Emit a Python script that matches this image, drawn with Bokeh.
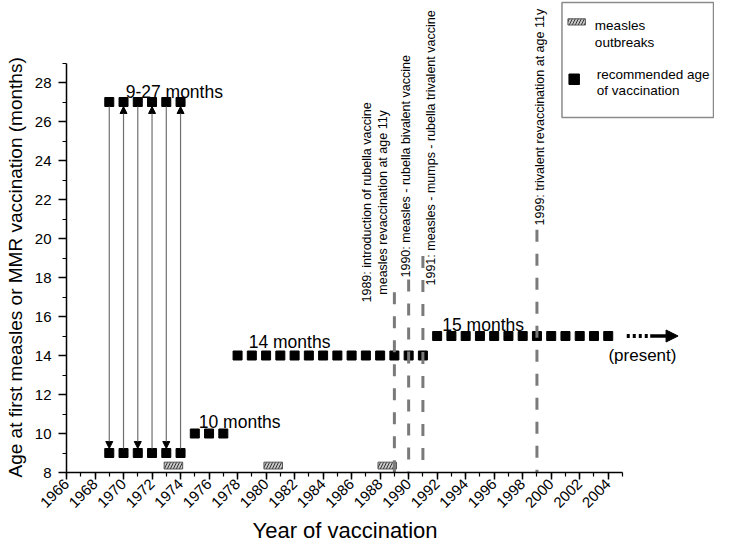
import math
from bokeh.plotting import figure
from bokeh.models import (Range1d, LinearAxis, FixedTicker, Arrow, NormalHead,
                          ColumnDataSource, BoxAnnotation, Label, Title)
from bokeh.core.properties import value
from bokeh.embed import file_html
from bokeh.resources import INLINE

FONT = "Liberation Sans"

# ---------------- data ----------------
early_years = [1969, 1970, 1971, 1972, 1973, 1974]
early_high = [27, 27, 27, 27, 27, 27]
early_low = [9, 9, 9, 9, 9, 9]
arrow_dir = ["down", "up", "down", "up", "down", "up"]

ten_years = [1975, 1976, 1977]
ten_age = [10, 10, 10]

fourteen_years = [1978, 1979, 1980, 1981, 1982, 1983, 1984, 1985, 1986, 1987,
                  1988, 1989, 1990, 1991]
fourteen_age = [14, 14, 14, 14, 14, 14, 14, 14, 14, 14, 14, 14, 14, 14]

fifteen_years = [1992, 1993, 1994, 1995, 1996, 1997, 1998, 1999, 2000, 2001,
                 2002, 2003, 2004]
fifteen_age = [15, 15, 15, 15, 15, 15, 15, 15, 15, 15, 15, 15, 15]

outbreak_start = [1973, 1980, 1988]
outbreak_end = [1974, 1981, 1989]

event_years = [1989, 1990, 1991, 1999]
event_tops = [17.25, 17.9, 19.1, 20.45]

note_texts_center = ["1989: introduction of rubella vaccine",
                     "measles revaccination at age 11y"]
note_texts_left = ["1990: measles - rubella bivalent vaccine",
                   "1991: measles - mumps - rubella trivalent vaccine",
                   "1999: trivalent revaccination at age 11y"]

group_labels = ["9-27 months", "10 months", "14 months", "15 months"]

x_ticks = [1966, 1968, 1970, 1972, 1974, 1976, 1978, 1980, 1982, 1984, 1986,
           1988, 1990, 1992, 1994, 1996, 1998, 2000, 2002, 2004]
x_minor = [1966, 1967, 1968, 1969, 1970, 1971, 1972, 1973, 1974, 1975, 1976,
           1977, 1978, 1979, 1980, 1981, 1982, 1983, 1984, 1985, 1986, 1987,
           1988, 1989, 1990, 1991, 1992, 1993, 1994, 1995, 1996, 1997, 1998,
           1999, 2000, 2001, 2002, 2003, 2004, 2005]
y_ticks = [8, 10, 12, 14, 16, 18, 20, 22, 24, 26, 28]
y_minor = [8, 9, 10, 11, 12, 13, 14, 15, 16, 17, 18, 19, 20, 21, 22, 23, 24,
           25, 26, 27, 28, 29]

# ---------------- layout ----------------
W, H = 714, 542
FRAME_LEFT, FRAME_BOTTOM = 64, 472          # canvas px
PX_YEAR, PX_MONTH = 14.3, 19.5
X0, Y0 = 1966, 8
X1 = X0 + (W - FRAME_LEFT) / PX_YEAR
Y1 = Y0 + FRAME_BOTTOM / PX_MONTH


def xd(px):
    return X0 + (px - FRAME_LEFT) / PX_YEAR


def yd(py):
    return Y0 + (FRAME_BOTTOM - py) / PX_MONTH


p = figure(width=W, height=H, x_range=Range1d(X0, X1), y_range=Range1d(Y0, Y1),
           output_backend="svg", toolbar_location=None,
           x_axis_type=None, y_axis_type=None,
           min_border_left=FRAME_LEFT, min_border_bottom=H - FRAME_BOTTOM,
           min_border_top=0, min_border_right=0)
p.outline_line_color = None
p.background_fill_color = "white"
p.border_fill_color = "white"

xaxis = LinearAxis(bounds=(1966, 2005),
                   ticker=FixedTicker(ticks=x_ticks, minor_ticks=x_minor))
yaxis = LinearAxis(bounds=(8, 29),
                   ticker=FixedTicker(ticks=y_ticks, minor_ticks=y_minor))
for ax in (xaxis, yaxis):
    ax.axis_line_width = 1.5
    ax.axis_line_color = "black"
    ax.major_tick_line_color = "black"
    ax.minor_tick_line_color = "black"
    ax.major_tick_line_width = 1.5
    ax.minor_tick_line_width = 1.2
    ax.major_tick_in = 0
    ax.minor_tick_in = 0
    ax.minor_tick_out = 4
    ax.major_label_text_font = FONT
    ax.major_label_text_font_size = "15px"
    ax.major_label_text_color = "black"
xaxis.major_tick_out = 7
xaxis.major_label_standoff = 2
xaxis.major_label_orientation = math.pi / 4
yaxis.major_tick_out = 8
yaxis.major_label_standoff = 7
p.add_layout(xaxis, "below")
p.add_layout(yaxis, "left")

# axis titles (as side titles so they can be centred on the drawn axes)
p.add_layout(Title(text="Year of vaccination", align="left", offset=186,
                   standoff=0, vertical_align="bottom", text_font=FONT,
                   text_font_size="22px", text_font_style="normal",
                   text_color="black"), "below")
p.add_layout(Title(text="Age at first measles or MMR vaccination (months)",
                   align="left", offset=-5, standoff=8, vertical_align="top",
                   text_font=FONT, text_font_size="19px", text_font_style="normal",
                   text_color="black"), "left")

# outbreak boxes
pad = 0.15
p.quad(left=[s - pad for s in outbreak_start], right=[e + pad for e in outbreak_end],
       bottom=[8.18] * len(outbreak_start), top=[8.53] * len(outbreak_start),
       fill_color="#c8c8c8", line_color="#555555", line_width=1,
       hatch_pattern="/", hatch_color="#333333", hatch_scale=6, hatch_weight=1)

# squares
sq = dict(marker="square", size=9, fill_color="black", line_color="black")
p.scatter(early_years, early_high, **sq)
p.scatter(early_years, early_low, **sq)
p.scatter(ten_years, ten_age, **sq)
p.scatter(fourteen_years, fourteen_age, **sq)
p.scatter(fifteen_years, fifteen_age, **sq)

# arrows between 27 and 9 months
half = 4.5 / PX_MONTH
for direction in ("down", "up"):
    xs = [x for x, d in zip(early_years, arrow_dir) if d == direction]
    hi = [h for h, d in zip(early_high, arrow_dir) if d == direction]
    lo = [l for l, d in zip(early_low, arrow_dir) if d == direction]
    if direction == "down":
        ys, ye = [h - half for h in hi], [l + half for l in lo]
    else:
        ys, ye = [l + half for l in lo], [h - half for h in hi]
    src = ColumnDataSource(dict(x=xs, ys=ys, ye=ye))
    p.add_layout(Arrow(end=NormalHead(size=7, fill_color="black", line_color="black",
                                      line_width=1),
                       source=src, x_start="x", y_start="ys", x_end="x", y_end="ye",
                       line_color="#707070", line_width=1.2))

# dashed event lines
p.segment(x0=event_years, y0=event_tops, x1=event_years, y1=[Y0] * len(event_years),
          line_color="#7a7a7a", line_width=3, line_dash="12 12")

# event notes (rotated)
p.text(x=[1987.05, 1988.22], y=[21.85, 21.85], text=note_texts_center,
       angle=math.pi / 2, text_font=value(FONT), text_font_size="12.5px",
       text_align="center", text_baseline="middle", text_color="black")
p.text(x=[1989.78, 1991.55, 1999.2], y=[18.0, 17.59, 20.67], text=note_texts_left,
       angle=math.pi / 2, text_font=value(FONT), text_font_size="12.5px",
       text_align="left", text_baseline="middle", text_color="black")

# group labels
p.text(x=[1970.15, 1975.28, 1978.78, 1992.36], y=[27.5, 10.6, 14.68, 15.56],
       text=group_labels, text_font=value(FONT), text_font_size="17.5px",
       text_align="left", text_baseline="alphabetic", text_color="black")

# present arrow
p.segment(x0=[2005.3], y0=[15], x1=[2007.0], y1=[15], line_color="black",
          line_width=4, line_dash="3 3")
p.add_layout(Arrow(end=NormalHead(size=12, fill_color="black", line_color="black"),
                   x_start=2006.95, y_start=15, x_end=2008.9, y_end=15,
                   line_color="black", line_width=3.5))
p.text(x=[2006.4], y=[14.0], text=["(present)"], text_font=value(FONT),
       text_font_size="17px", text_align="center", text_baseline="middle",
       text_color="black")

# legend box (drawn manually)
p.add_layout(BoxAnnotation(left=xd(561), right=xd(713), top=yd(2), bottom=yd(117),
                           fill_color="white", fill_alpha=1.0,
                           line_color="#8a8a8a", line_width=1.5, line_alpha=1.0))
p.add_layout(BoxAnnotation(left=xd(567), right=xd(584.5), top=yd(18.3), bottom=yd(24.5),
                           fill_color="#c8c8c8", fill_alpha=1.0,
                           line_color="#555555", line_width=1, line_alpha=1.0,
                           hatch_pattern="/", hatch_color="#333333", hatch_scale=6,
                           hatch_weight=1))
p.add_layout(BoxAnnotation(left=xd(568), right=xd(578.5), top=yd(73.5), bottom=yd(84),
                           fill_color="black", fill_alpha=1.0,
                           line_color="black", line_alpha=1.0))
for txt, px, py in [("measles", 594, 25), ("outbreaks", 594, 41.5),
                    ("recommended age", 596, 74), ("of vaccination", 596, 90)]:
    p.add_layout(Label(x=xd(px), y=yd(py), text=txt, text_font=FONT,
                       text_font_size="13.5px", text_baseline="alphabetic",
                       text_align="left", text_color="black"))

open("out.html", "w").write(file_html(p, INLINE))
